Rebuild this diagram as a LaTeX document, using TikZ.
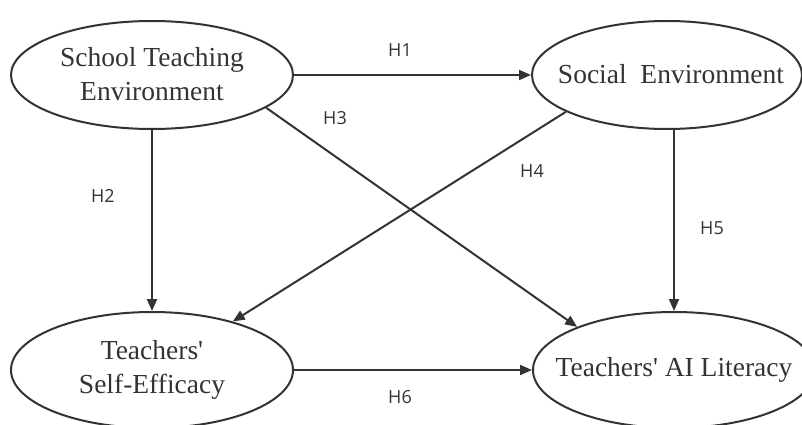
\documentclass[tikz,border=0pt]{standalone}
\usepackage{fontspec}
\setmainfont{Liberation Serif}
\newfontfamily\lblfont{Open Sans}
\usetikzlibrary{shapes.geometric,arrows.meta}
\definecolor{ink}{HTML}{333333}
\begin{document}
\begin{tikzpicture}[x=1pt,y=-1pt,
  oval/.style={ellipse,draw=ink,line width=2pt,inner sep=0pt},
  ovaltext/.style={text=ink,font=\fontsize{27.5}{34}\selectfont,align=center},
  hyp/.style={text=ink,font=\lblfont\fontsize{18}{21}\selectfont},
  conn/.style={draw=ink,line width=2pt,-{Triangle[length=12pt,width=10pt]}}]
\useasboundingbox (0,0) rectangle (802,425);
\node[oval,minimum width=282pt,minimum height=108pt] (ste) at (152,75) {};
\node[ovaltext] at (152,74) {School Teaching\\Environment};
\node[oval,minimum width=270pt,minimum height=108pt] (se) at (667,75) {};
\node[ovaltext] at (671,74) {Social\ \ Environment};
\node[oval,minimum width=282pt,minimum height=116pt] (tse) at (152,370) {};
\node[ovaltext] at (152,370) {Teachers\textquotesingle\\Self-Efficacy};
\node[oval,minimum width=282pt,minimum height=116pt] (tal) at (674,370) {};
\node[ovaltext] at (674,370) {Teachers\textquotesingle\ AI Literacy};
\draw[conn] (ste.east) -- (se.west);
\draw[conn] (ste.south) -- (tse.north);
\draw[conn] (ste.-16.7) -- (tal.156.1);
\draw[conn] (se.200.4) -- (tse.31);
\draw[conn] (tal.north |- se.south) -- (tal.north);
\draw[conn] (tse.east) -- (tal.west);
\node[hyp] (h1) at (400,50) {H1};
\node[hyp] (h2) at (103,196) {H2};
\node[hyp] (h3) at (335,118) {H3};
\node[hyp] (h4) at (532,171) {H4};
\node[hyp] (h5) at (712,228) {H5};
\node[hyp] (h6) at (400,397) {H6};
\end{tikzpicture}
\end{document}
